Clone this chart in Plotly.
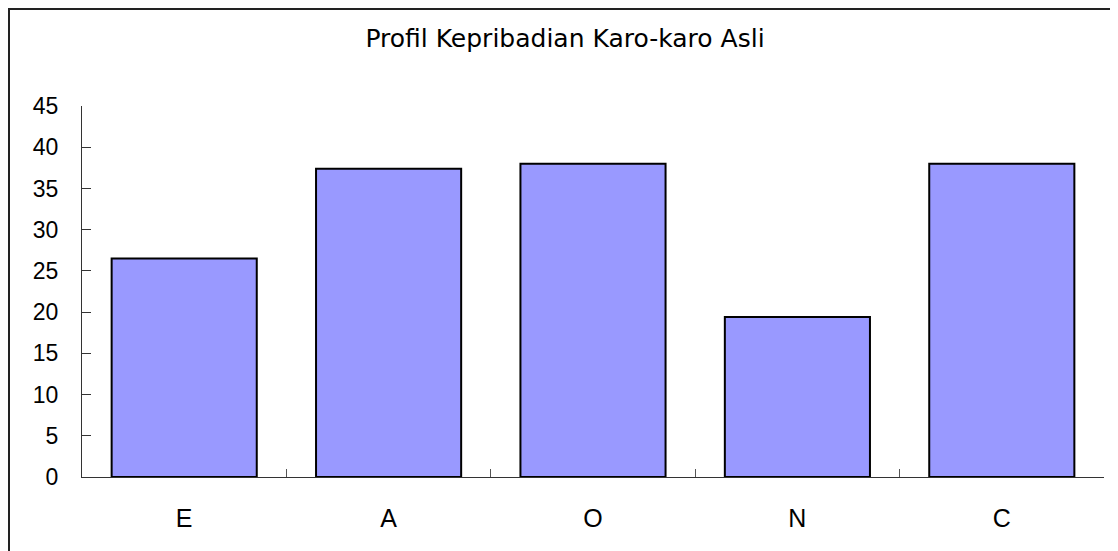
import plotly.graph_objects as go

categories = ["E", "A", "O", "N", "C"]
values = [26.5, 37.4, 38.0, 19.4, 38.0]
y_ticks = [0, 5, 10, 15, 20, 25, 30, 35, 40, 45]
title_text = "Profil Kepribadian Karo-karo Asli"

# page is offset by the 8px body margin; positions below are in figure px
W, H = 1118, 551
L, T = 74, 98
R = W - 1096
B = H - 469
pw, ph = W - L - R, H - T - B

fig = go.Figure(
    go.Bar(
        x=categories,
        y=values,
        marker=dict(color="#9999FF", line=dict(color="#000000", width=2)),
    )
)

fig.update_layout(
    width=W,
    height=H,
    margin=dict(l=L, r=R, t=T, b=B),
    paper_bgcolor="white",
    plot_bgcolor="white",
    bargap=0.29,
    showlegend=False,
    font=dict(family="Liberation Sans, Arial, sans-serif", color="#000000"),
    title=dict(
        text=title_text,
        x=557 / W,
        xanchor="center",
        y=1 - 30 / H,
        yanchor="middle",
        font=dict(family="DejaVu Sans, sans-serif", size=25, color="#000000"),
    ),
    xaxis=dict(
        showline=True,
        linecolor="#333333",
        linewidth=1,
        ticks="inside",
        tickson="boundaries",
        ticklen=8,
        tickcolor="#555555",
        tickwidth=1,
        showgrid=False,
        tickfont=dict(size=25),
        ticklabelstandoff=19,
    ),
    yaxis=dict(
        range=[0, 45],
        tickvals=y_ticks,
        showline=True,
        linecolor="#333333",
        linewidth=1,
        ticks="inside",
        ticklen=9,
        tickcolor="#333333",
        tickwidth=1,
        showgrid=False,
        zeroline=False,
        tickfont=dict(size=23),
        ticklabelstandoff=18,
    ),
    shapes=[
        dict(
            type="rect",
            xref="paper",
            yref="paper",
            x0=(1 - L) / pw,
            x1=(W + 20 - L) / pw,
            y0=-(B + 20) / ph,
            y1=(H - B - 1) / ph,
            line=dict(color="#222222", width=2),
            fillcolor="rgba(0,0,0,0)",
            layer="above",
        )
    ],
)

fig.write_html("out.html")
